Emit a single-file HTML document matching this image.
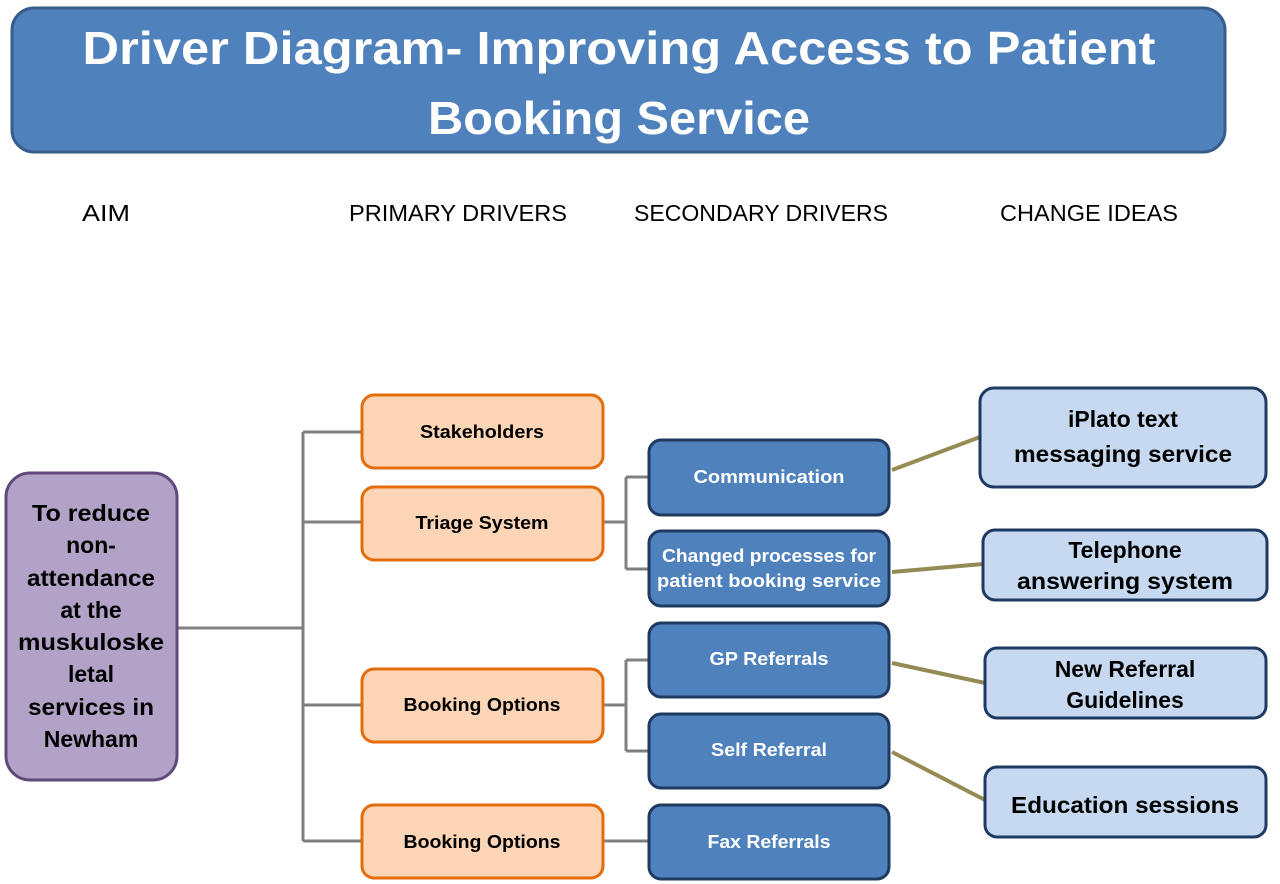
<!DOCTYPE html>
<html><head><meta charset="utf-8"><style>
html,body{margin:0;padding:0;background:#fff;}
svg{display:block;}
text{font-family:"Liberation Sans",sans-serif;}
</style></head><body>
<svg width="1280" height="884" viewBox="0 0 1280 884" xmlns="http://www.w3.org/2000/svg">
<rect x="12" y="8" width="1213" height="144" rx="22" fill="#4f81bd" stroke="#385d8a" stroke-width="3"/>
<text x="619" y="64" text-anchor="middle" font-size="46" font-weight="bold" fill="#fff" textLength="1073" lengthAdjust="spacingAndGlyphs">Driver Diagram- Improving Access to Patient</text>
<text x="619" y="134" text-anchor="middle" font-size="46" font-weight="bold" fill="#fff" textLength="382" lengthAdjust="spacingAndGlyphs">Booking Service</text>

<g font-size="23" fill="#000" text-anchor="middle">
<text x="106" y="221" textLength="48" lengthAdjust="spacingAndGlyphs">AIM</text>
<text x="458" y="221" textLength="218" lengthAdjust="spacingAndGlyphs">PRIMARY DRIVERS</text>
<text x="761" y="221" textLength="254" lengthAdjust="spacingAndGlyphs">SECONDARY DRIVERS</text>
<text x="1089" y="221" textLength="178" lengthAdjust="spacingAndGlyphs">CHANGE IDEAS</text>
</g>

<g stroke="#808080" stroke-width="3" fill="none">
<path d="M178 628H303M303 432V841M303 432H362M303 522H362M303 705H362M303 841H362"/>
<path d="M603 522H626M626 477V569M626 477H649M626 569H649"/>
<path d="M603 705H626M626 660V751M626 660H649M626 751H649"/>
<path d="M603 841H649"/>
</g>
<g stroke="#948a54" stroke-width="4">
<line x1="892" y1="470" x2="980" y2="437"/>
<line x1="892" y1="572" x2="983" y2="564"/>
<line x1="892" y1="663" x2="985" y2="683"/>
<line x1="892" y1="752" x2="985" y2="800"/>
</g>

<rect x="6" y="473" width="171" height="307" rx="24" fill="#b3a2c7" stroke="#604a7b" stroke-width="3"/>
<g font-size="23" font-weight="bold" fill="#000" text-anchor="middle">
<text x="91" y="521" textLength="118" lengthAdjust="spacingAndGlyphs">To reduce</text>
<text x="91" y="553">non-</text>
<text x="91" y="586" textLength="128" lengthAdjust="spacingAndGlyphs">attendance</text>
<text x="91" y="618">at the</text>
<text x="91" y="650" textLength="146" lengthAdjust="spacingAndGlyphs">muskuloske</text>
<text x="91" y="682">letal</text>
<text x="91" y="715" textLength="126" lengthAdjust="spacingAndGlyphs">services in</text>
<text x="91" y="747">Newham</text>
</g>

<g fill="#fbd5b5" stroke="#e46c0a" stroke-width="3">
<rect x="362" y="395" width="241" height="73" rx="12"/>
<rect x="362" y="487" width="241" height="73" rx="12"/>
<rect x="362" y="669" width="241" height="73" rx="12"/>
<rect x="362" y="805" width="241" height="73" rx="12"/>
</g>
<g font-size="18" font-weight="bold" fill="#000" text-anchor="middle">
<text x="482" y="438" textLength="124" lengthAdjust="spacingAndGlyphs">Stakeholders</text>
<text x="482" y="529" textLength="133" lengthAdjust="spacingAndGlyphs">Triage System</text>
<text x="482" y="711" textLength="157" lengthAdjust="spacingAndGlyphs">Booking Options</text>
<text x="482" y="848" textLength="157" lengthAdjust="spacingAndGlyphs">Booking Options</text>
</g>

<g fill="#4f81bd" stroke="#1f3a60" stroke-width="3">
<rect x="649" y="440" width="240" height="75" rx="12"/>
<rect x="649" y="531" width="240" height="75" rx="12"/>
<rect x="649" y="623" width="240" height="74" rx="12"/>
<rect x="649" y="714" width="240" height="74" rx="12"/>
<rect x="649" y="805" width="240" height="74" rx="12"/>
</g>
<g font-size="18" font-weight="bold" fill="#fff" text-anchor="middle">
<text x="769" y="483" textLength="151" lengthAdjust="spacingAndGlyphs">Communication</text>
<text x="769" y="562" textLength="214" lengthAdjust="spacingAndGlyphs">Changed processes for</text>
<text x="769" y="587" textLength="224" lengthAdjust="spacingAndGlyphs">patient booking service</text>
<text x="769" y="665" textLength="119" lengthAdjust="spacingAndGlyphs">GP Referrals</text>
<text x="769" y="756" textLength="116" lengthAdjust="spacingAndGlyphs">Self Referral</text>
<text x="769" y="848" textLength="123" lengthAdjust="spacingAndGlyphs">Fax Referrals</text>
</g>

<g fill="#c6d9f1" stroke="#1f3a60" stroke-width="3">
<rect x="980" y="388" width="286" height="99" rx="14"/>
<rect x="983" y="530" width="284" height="70" rx="12"/>
<rect x="985" y="648" width="281" height="70" rx="12"/>
<rect x="985" y="767" width="281" height="70" rx="12"/>
</g>
<g font-size="23" font-weight="bold" fill="#000" text-anchor="middle">
<text x="1123" y="427">iPlato text</text>
<text x="1123" y="462" textLength="218" lengthAdjust="spacingAndGlyphs">messaging service</text>
<text x="1125" y="558">Telephone</text>
<text x="1125" y="589" textLength="216" lengthAdjust="spacingAndGlyphs">answering system</text>
<text x="1125" y="677">New Referral</text>
<text x="1125" y="708">Guidelines</text>
<text x="1125" y="813" textLength="228" lengthAdjust="spacingAndGlyphs">Education sessions</text>
</g>
</svg>
</body></html>
